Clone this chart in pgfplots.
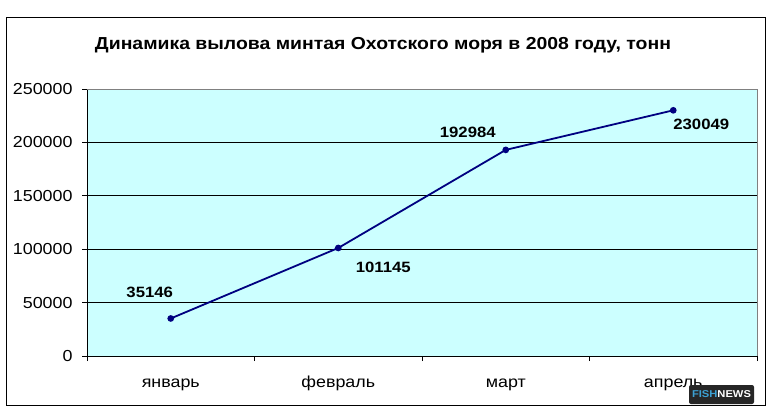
\documentclass[border=0pt]{standalone}
\usepackage{fontspec}
\setmainfont{Liberation Sans}[FakeStretch=1.12]
\usepackage{pgfplots}
\pgfplotsset{compat=1.18}

\definecolor{plotbg}{RGB}{204,255,255}
\definecolor{navyline}{RGB}{0,0,128}
\definecolor{fishblue}{RGB}{60,160,210}

\begin{document}
\begin{tikzpicture}[x=1bp,y=1bp]
\useasboundingbox (0,0) rectangle (773,414);
\draw[black, line width=0.8bp] (6,9) rectangle (765,397);
\node[font=\fontsize{17.4}{20}\selectfont\bfseries] at (383,369) {Динамика вылова минтая Охотского моря в 2008 году, тонн};

\begin{axis}[
    at={(87bp,58bp)}, anchor=south west,
    scale only axis,
    width=670bp, height=267bp,
    xmin=-0.5, xmax=3.5,
    ymin=0, ymax=250000,
    axis lines=left,
    axis line style={-, black, line width=0.8bp},
    axis background/.style={fill=plotbg},
    xtick={0,1,2,3},
    xticklabels={январь, февраль, март, апрель},
    major x tick style={draw=none},
    minor xtick={-0.5,0.5,1.5,2.5,3.5},
    minor tick length=5bp,
    ytick={0,50000,100000,150000,200000,250000},
    major tick length=5bp,
    tick align=outside,
    tick style={black, line width=0.8bp},
    ymajorgrids,
    grid style={black, line width=0.7bp},
    scaled y ticks=false,
    yticklabel style={/pgf/number format/1000 sep={}, /pgf/number format/fixed, xshift=-6bp},
    /pgf/number format/assume math mode=true,
    ticklabel style={font=\fontsize{16}{19}\selectfont},
    xticklabel style={text height=11bp, text depth=3bp, yshift=-12bp},
    clip=false,
]
\addplot[navyline, line width=1.8bp, mark=*, mark size=2.4bp, mark options={fill=navyline}]
  coordinates {(0,35146) (1,101145) (2,192984) (3,230049)};
\draw[gray, line width=0.8bp] (axis cs:-0.5,250000) -- (axis cs:3.5,250000) -- (axis cs:3.5,0);
\begin{scope}[every node/.style={font=\fontsize{15}{18}\selectfont\bfseries}]
\node[xshift=-21bp, yshift=26bp] at (axis cs:0,35146) {35146};
\node[xshift=45bp, yshift=-19bp] at (axis cs:1,101145) {101145};
\node[xshift=-38bp, yshift=18bp] at (axis cs:2,192984) {192984};
\node[xshift=28bp, yshift=-14bp] at (axis cs:3,230049) {230049};
\end{scope}
\end{axis}

\fill[black!85, rounded corners=2bp] (689,10) rectangle (754,29);
\node[font=\fontsize{10}{12}\selectfont\bfseries, inner sep=0pt] at (721.5,19.5) {\textcolor{fishblue}{FISH}\textcolor{white}{NEWS}};
\end{tikzpicture}
\end{document}
